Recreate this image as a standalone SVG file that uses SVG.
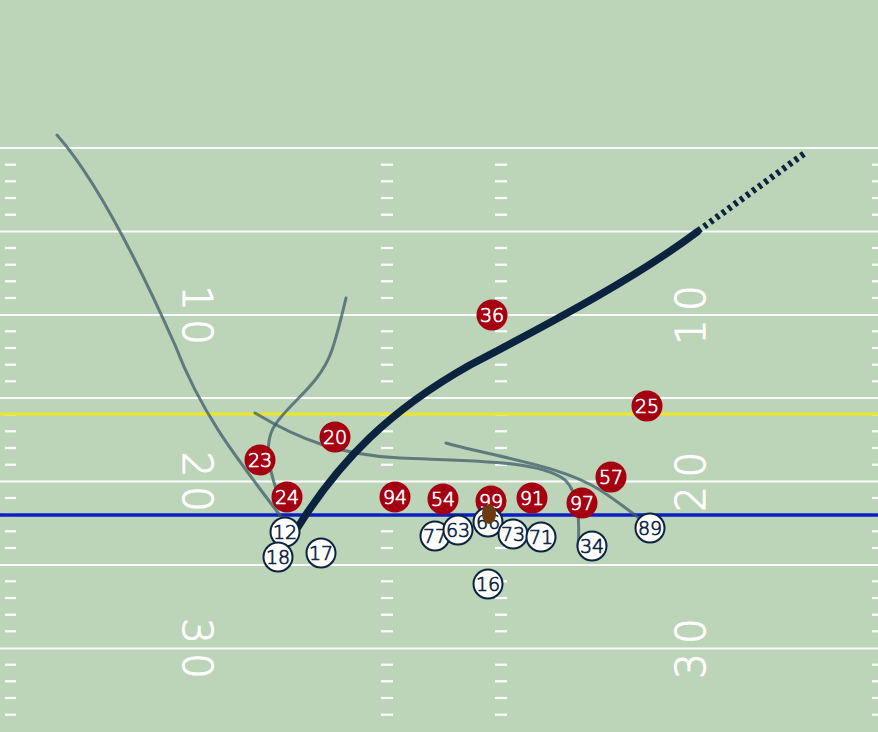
<svg xmlns="http://www.w3.org/2000/svg" width="878" height="732" viewBox="0 0 878 732">
<style>
.yl{stroke:#ffffff;stroke-width:2;opacity:0.95}
.hm{stroke:#ffffff;stroke-width:2.2}
.num{font-family:"DejaVu Sans",sans-serif;font-weight:200;font-size:40px;fill:#ffffff;stroke:#ffffff;stroke-width:1.1;text-anchor:middle}
.route{fill:none;stroke:#3f5c68;stroke-width:3;opacity:0.75;stroke-linecap:round}
.pass{fill:none;stroke:#0c2340;stroke-width:7.5;stroke-linecap:round}
.passd{fill:none;stroke:#0c2340;stroke-width:6.5;stroke-dasharray:3.5 4}
.def circle{fill:#a50011}
.def text{fill:#ffffff;stroke:#ffffff}
.off circle{fill:#ffffff;stroke:#0c2340;stroke-width:2}
.off text{fill:#0c2340;stroke:#0c2340}
.p text{font-family:"DejaVu Sans",sans-serif;font-weight:200;font-size:19px;stroke-width:0.7;text-anchor:middle}
</style>
<defs>
<g id="hashrow">
<line x1="5" x2="16" y1="0" y2="0"/>
<line x1="381" x2="393" y1="0" y2="0"/>
<line x1="495" x2="507" y1="0" y2="0"/>
<line x1="872" x2="878" y1="0" y2="0"/>
</g>
</defs>
<rect x="0" y="0" width="878" height="732" fill="#bcd4b7"/>
<g id="field">
<g id="yardlines">
<line class="yl" x1="0" x2="878" y1="148" y2="148"/>
<line class="yl" x1="0" x2="878" y1="231.5" y2="231.5"/>
<line class="yl" x1="0" x2="878" y1="315" y2="315"/>
<line class="yl" x1="0" x2="878" y1="398" y2="398"/>
<line class="yl" x1="0" x2="878" y1="481.5" y2="481.5"/>
<line class="yl" x1="0" x2="878" y1="565" y2="565"/>
<line class="yl" x1="0" x2="878" y1="648.5" y2="648.5"/>
</g>
<g id="hashes" class="hm">
<use href="#hashrow" y="164.7"/><use href="#hashrow" y="181.3"/><use href="#hashrow" y="198"/><use href="#hashrow" y="214.7"/>
<use href="#hashrow" y="248"/><use href="#hashrow" y="264.7"/><use href="#hashrow" y="281.3"/><use href="#hashrow" y="298"/>
<use href="#hashrow" y="331.3"/><use href="#hashrow" y="348"/><use href="#hashrow" y="364.7"/><use href="#hashrow" y="381.3"/>
<use href="#hashrow" y="414.7"/><use href="#hashrow" y="431.3"/><use href="#hashrow" y="448"/><use href="#hashrow" y="464.7"/>
<use href="#hashrow" y="498"/><use href="#hashrow" y="514.7"/><use href="#hashrow" y="531.3"/><use href="#hashrow" y="548"/>
<use href="#hashrow" y="581.3"/><use href="#hashrow" y="598"/><use href="#hashrow" y="614.7"/><use href="#hashrow" y="631.3"/>
<use href="#hashrow" y="664.7"/><use href="#hashrow" y="681.3"/><use href="#hashrow" y="698"/><use href="#hashrow" y="714.7"/>
</g>
<g id="numbers" class="num">
<text transform="translate(197.5,298) rotate(90)" y="14.5">1</text>
<text transform="translate(197.5,332) rotate(90)" y="14.5">0</text>
<text transform="translate(197.5,464.5) rotate(90)" y="14.5">2</text>
<text transform="translate(197.5,499) rotate(90)" y="14.5">0</text>
<text transform="translate(197.5,631) rotate(90)" y="14.5">3</text>
<text transform="translate(197.5,666) rotate(90)" y="14.5">0</text>
<text transform="translate(690,298) rotate(-90)" y="14.5">0</text>
<text transform="translate(690,332) rotate(-90)" y="14.5">1</text>
<text transform="translate(690,464.5) rotate(-90)" y="14.5">0</text>
<text transform="translate(690,499) rotate(-90)" y="14.5">2</text>
<text transform="translate(690,631) rotate(-90)" y="14.5">0</text>
<text transform="translate(690,666) rotate(-90)" y="14.5">3</text>
</g>
<line id="first-down" x1="0" x2="878" y1="414" y2="414" stroke="#e6e53a" stroke-width="3.5"/>
<line id="scrimmage" x1="0" x2="878" y1="515" y2="515" stroke="#0a1fc4" stroke-width="3.5"/>
</g>
<g id="connectors">
<path class="route" d="M57,135 C95,178 135,255 175,345 C200,410 230,450 282,518"/>
<path class="route" d="M282,505 C270,475 262,445 275,425 C290,402 320,385 332,350 C337,335 342,315 346,298"/>
<path class="route" d="M255,413 C300,440 340,455 400,458 C470,461 540,460 565,480 C578,492 580,520 578,547"/>
<path class="route" d="M446,443 C500,458 560,465 600,490 C620,503 635,515 648,525"/>
<path class="pass" d="M298,527 C340,460 390,410 470,365 C560,318 640,275 697,232"/>
<path class="passd" d="M698,231 L805,153"/>
</g>
<g id="defense" class="p def">
<g id="d36"><circle cx="492" cy="315" r="15.5"/><text x="492" y="322">36</text></g>
<g id="d25"><circle cx="647" cy="406" r="15.5"/><text x="647" y="413">25</text></g>
<g id="d20"><circle cx="335" cy="437" r="15.5"/><text x="335" y="444">20</text></g>
<g id="d23"><circle cx="260" cy="460" r="15.5"/><text x="260" y="467">23</text></g>
<g id="d24"><circle cx="287" cy="497" r="15.5"/><text x="287" y="504">24</text></g>
<g id="d94"><circle cx="395" cy="497" r="15.5"/><text x="395" y="504">94</text></g>
<g id="d54"><circle cx="443" cy="499" r="15.5"/><text x="443" y="506">54</text></g>
<g id="d99"><circle cx="491" cy="501" r="15.5"/><text x="491" y="508">99</text></g>
<g id="d91"><circle cx="532" cy="498" r="15.5"/><text x="532" y="505">91</text></g>
<g id="d97"><circle cx="582" cy="503" r="15.5"/><text x="582" y="510">97</text></g>
<g id="d57"><circle cx="611" cy="477" r="15.5"/><text x="611" y="484">57</text></g>
</g>
<g id="offense" class="p off">
<g id="o12"><circle cx="285" cy="532" r="14.5"/><text x="285" y="539">12</text></g>
<g id="o18"><circle cx="278" cy="557" r="14.5"/><text x="278" y="564">18</text></g>
<g id="o17"><circle cx="321" cy="553" r="14.5"/><text x="321" y="560">17</text></g>
<g id="o77"><circle cx="435" cy="536" r="14.5"/><text x="435" y="543">77</text></g>
<g id="o63"><circle cx="458" cy="530" r="14.5"/><text x="458" y="537">63</text></g>
<g id="o66"><circle cx="488" cy="522" r="14.5"/><text x="488" y="529">66</text></g>
<g id="o73"><circle cx="513" cy="534" r="14.5"/><text x="513" y="541">73</text></g>
<g id="o71"><circle cx="541" cy="537" r="14.5"/><text x="541" y="544">71</text></g>
<g id="o16"><circle cx="488" cy="584" r="14.5"/><text x="488" y="591">16</text></g>
<g id="o34"><circle cx="592" cy="546" r="14.5"/><text x="592" y="553">34</text></g>
<g id="o89"><circle cx="650" cy="528" r="14.5"/><text x="650" y="535">89</text></g>
</g>
<g id="ball"><ellipse cx="489" cy="514" rx="7" ry="10" fill="#6b3a0e"/></g>
</svg>
